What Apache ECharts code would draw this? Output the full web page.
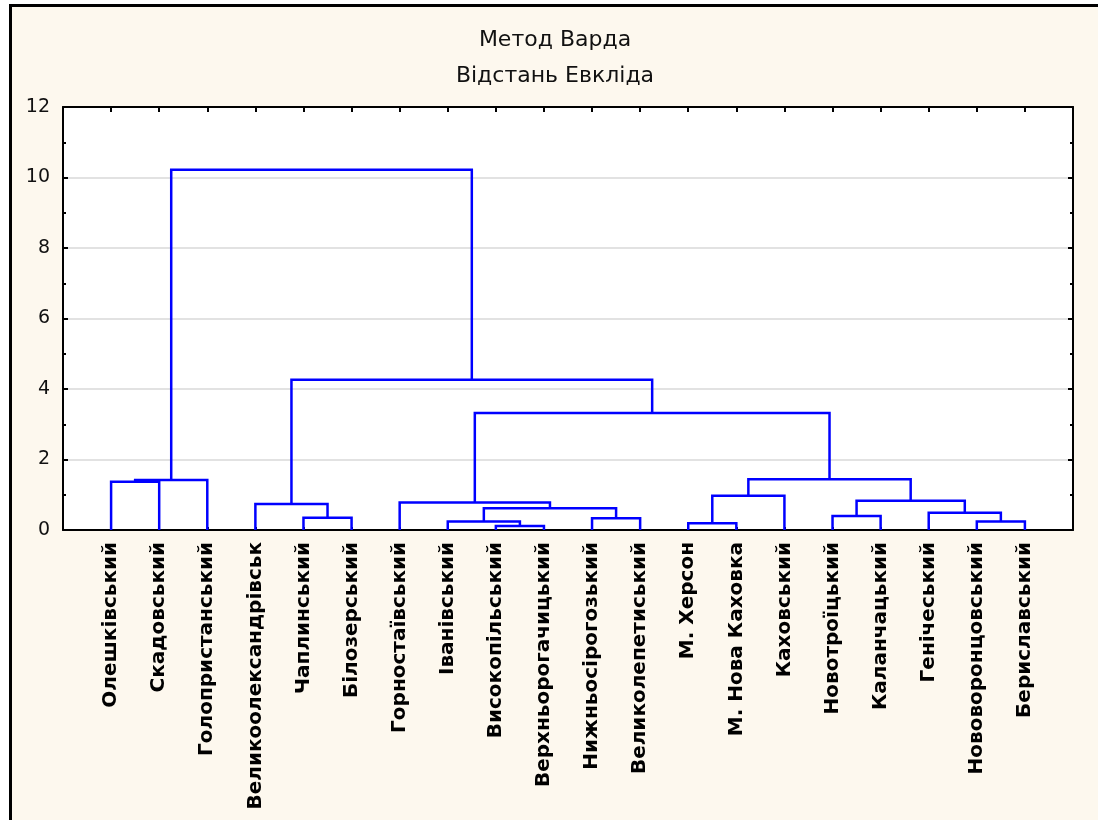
<!DOCTYPE html>
<html>
<head>
<meta charset="utf-8">
<script src="https://cdn.jsdelivr.net/npm/echarts@6/dist/echarts.min.js"></script>
<style>
  html, body { margin: 0; padding: 0; background: #ffffff; }
  #chart { width: 1098px; height: 820px; }
</style>
</head>
<body>
<div id="chart"></div>
<script>
// Leaves of the dendrogram, in drawing order (left to right)
const leaves = [
  'Олешківський', 'Скадовський', 'Голопристанський', 'Великоолександрівськ',
  'Чаплинський', 'Білозерський', 'Горностаївський', 'Іванівський',
  'Високопільський', 'Верхньорогачицький', 'Нижньосірогозький', 'Великолепетиський',
  'М. Херсон', 'М. Нова Каховка', 'Каховський', 'Новотроїцький',
  'Каланчацький', 'Генічеський', 'Нововоронцовський', 'Бериславський'
];

// Agglomeration steps: ids 0..19 are leaves, step k creates cluster id 20 + k
const mergeLeft   = [8, 7, 10, 21, 6, 4, 3, 0, 27, 12, 29, 15, 18, 17, 31, 30, 24, 26, 28];
const mergeRight  = [9, 20, 11, 22, 23, 5, 25, 1, 2, 13, 14, 16, 19, 32, 33, 34, 35, 36, 37];
const mergeHeight = [0.11, 0.24, 0.33, 0.62, 0.78, 0.35, 0.74, 1.37, 1.42, 0.19, 0.97, 0.40, 0.24, 0.49, 0.83, 1.44, 3.32, 4.26, 10.22];

// Y axis ticks
const yTicks = [0, 2, 4, 6, 8, 10, 12];

const title1 = 'Метод Варда';
const title2 = 'Відстань Евкліда';

// Node positions: leaves at 1..n, clusters centred over their children
const nodeX = leaves.map((_, i) => i + 1);
const nodeY = leaves.map(() => 0);
const links = [];
for (let k = 0; k < mergeHeight.length; k++) {
  const a = mergeLeft[k], b = mergeRight[k], h = mergeHeight[k];
  links.push({
    coords: [[nodeX[a], nodeY[a]], [nodeX[a], h], [nodeX[b], h], [nodeX[b], nodeY[b]]]
  });
  nodeX.push((nodeX[a] + nodeX[b]) / 2);
  nodeY.push(h);
}

const chart = echarts.init(document.getElementById('chart'), null, { renderer: 'canvas' });

const axisLineStyle = { color: '#000000', width: 2 };
const xMax = leaves.length + 1;
const yMin = yTicks[0], yMax = yTicks[yTicks.length - 1], yStep = yTicks[1] - yTicks[0];

chart.setOption({
  animation: false,
  backgroundColor: 'transparent',
  graphic: [
    {
      type: 'rect', z: -10, silent: true,
      shape: { x: 10.5, y: 5.5, width: 1200, height: 1000 },
      style: { fill: '#fdf8ee', stroke: '#000000', lineWidth: 3 }
    },
    {
      type: 'text', x: 555, y: 40,
      style: { text: title1, textAlign: 'center', textVerticalAlign: 'middle',
               font: '22px "DejaVu Sans"', fill: '#111111' }
    },
    {
      type: 'text', x: 555, y: 76,
      style: { text: title2, textAlign: 'center', textVerticalAlign: 'middle',
               font: '22px "DejaVu Sans"', fill: '#111111' }
    }
  ],
  grid: {
    left: 63, right: 25, top: 107, bottom: 290,
    show: true, backgroundColor: '#ffffff', borderWidth: 0
  },
  xAxis: [
    {
      type: 'value', position: 'bottom', min: 0, max: xMax, interval: 1,
      axisLine: { show: true, onZero: false, lineStyle: axisLineStyle },
      axisTick: { show: true, inside: true, length: 3, lineStyle: { color: '#000', width: 2 } },
      splitLine: { show: false },
      axisLabel: {
        rotate: 90, margin: 12, color: '#000000',
        fontFamily: 'DejaVu Sans', fontWeight: 'bold', fontSize: 20,
        showMinLabel: true, showMaxLabel: true,
        formatter: v => leaves[v - 1] || ''
      }
    },
    {
      type: 'value', position: 'top', min: 0, max: xMax, interval: 1,
      axisLine: { show: true, onZero: false, lineStyle: axisLineStyle },
      axisTick: { show: true, inside: true, length: 5, lineStyle: { color: '#000', width: 2 } },
      splitLine: { show: false },
      axisLabel: { show: false }
    }
  ],
  yAxis: [
    {
      type: 'value', position: 'left', min: yMin, max: yMax, interval: yStep,
      axisLine: { show: true, onZero: false, lineStyle: axisLineStyle },
      axisTick: { show: true, inside: true, length: 5, lineStyle: { color: '#000', width: 2 } },
      minorTick: { show: true, splitNumber: 2, length: 3, lineStyle: { color: '#000', width: 2 } },
      splitLine: { show: true, lineStyle: { color: '#e2e2e2', width: 2 } },
      axisLabel: { margin: 13, color: '#111111', fontFamily: 'DejaVu Sans', fontSize: 19 }
    },
    {
      type: 'value', position: 'right', min: yMin, max: yMax, interval: yStep,
      axisLine: { show: true, onZero: false, lineStyle: axisLineStyle },
      axisTick: { show: true, inside: true, length: 5, lineStyle: { color: '#000', width: 2 } },
      minorTick: { show: true, splitNumber: 2, length: 3, lineStyle: { color: '#000', width: 2 } },
      splitLine: { show: false },
      axisLabel: { show: false }
    }
  ],
  series: [
    {
      type: 'lines',
      coordinateSystem: 'cartesian2d',
      xAxisIndex: 0, yAxisIndex: 0,
      polyline: true,
      silent: true,
      lineStyle: { color: '#0000ff', width: 2.5, opacity: 1 },
      data: links
    }
  ]
});
</script>
</body>
</html>
